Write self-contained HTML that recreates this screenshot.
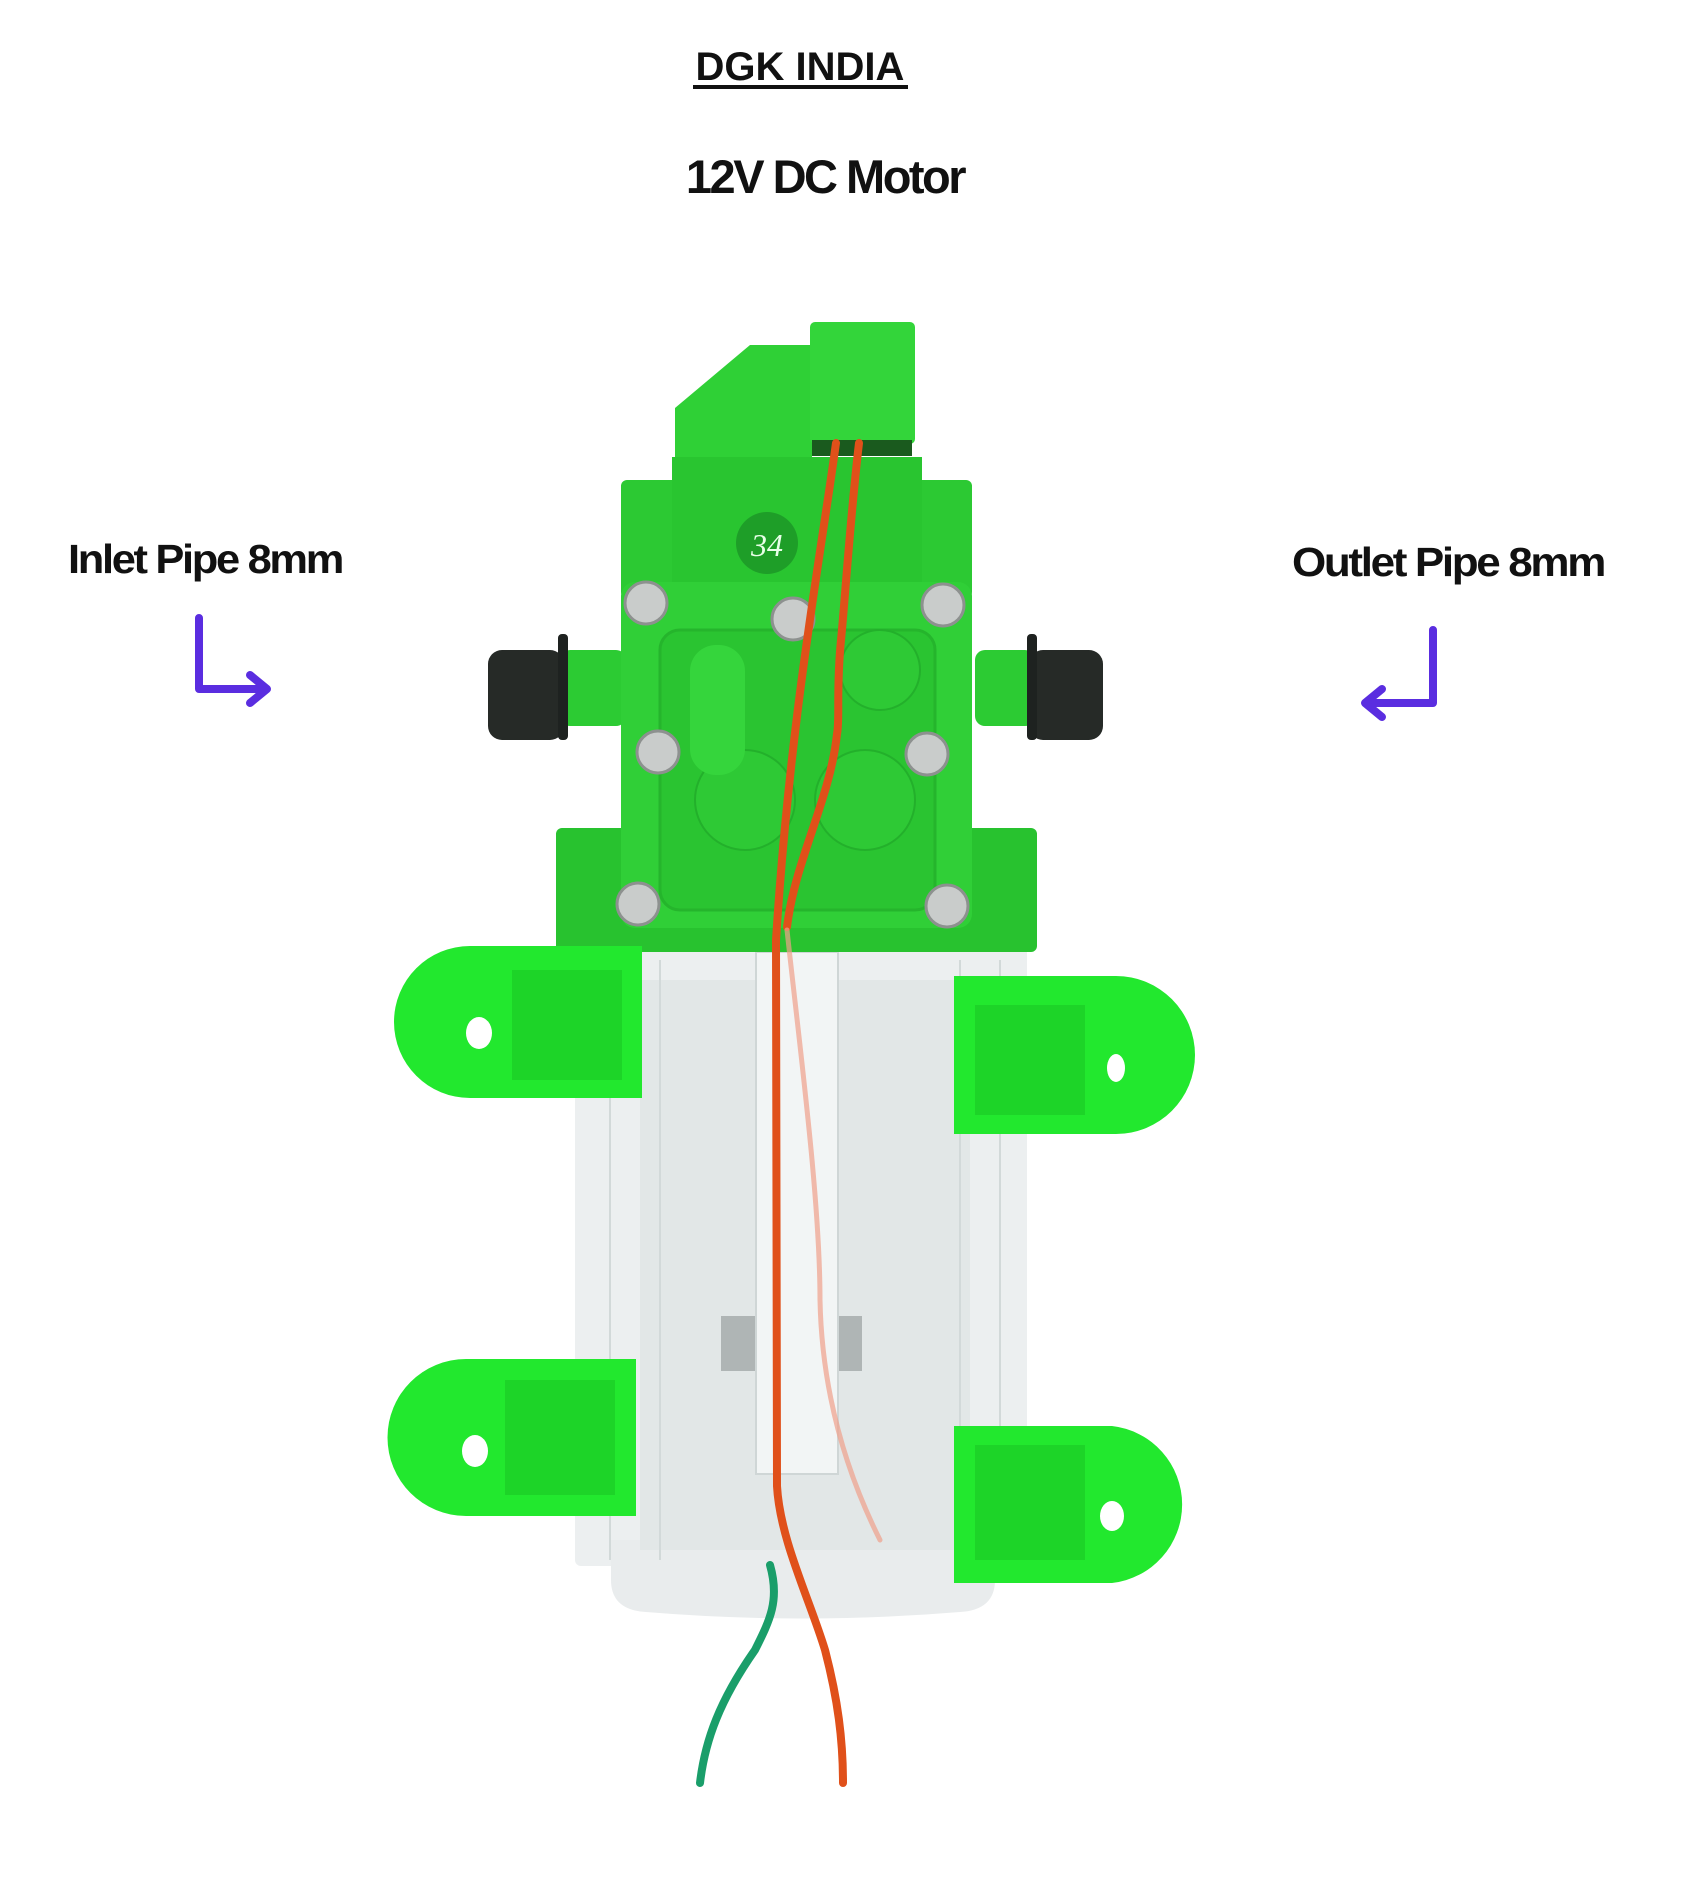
<!DOCTYPE html>
<html><head><meta charset="utf-8"><style>
html,body{margin:0;padding:0;background:#fff}
svg{display:block}
</style></head><body>
<svg width="1700" height="1904" viewBox="0 0 1700 1904" xmlns="http://www.w3.org/2000/svg">
<rect width="1700" height="1904" fill="#fff"/>
<text x="800" y="80" text-anchor="middle" font-family="Liberation Sans, sans-serif" font-weight="bold" font-size="40" fill="#111">DGK INDIA</text>
<rect x="693" y="85" width="215" height="4" fill="#111"/>
<text x="825" y="193" text-anchor="middle" font-family="Liberation Sans, sans-serif" font-weight="bold" font-size="47" letter-spacing="-2.5" fill="#111">12V DC Motor</text>
<text x="68" y="573" font-family="Liberation Sans, sans-serif" font-weight="bold" font-size="41" letter-spacing="-2.2" fill="#111" textLength="274" lengthAdjust="spacingAndGlyphs">Inlet Pipe 8mm</text>
<text x="1292" y="576" font-family="Liberation Sans, sans-serif" font-weight="bold" font-size="41" letter-spacing="-2.2" fill="#111" textLength="312" lengthAdjust="spacingAndGlyphs">Outlet Pipe 8mm</text>
<g fill="none" stroke="#5a2de0" stroke-width="8" stroke-linecap="round" stroke-linejoin="round">
<path d="M199 618 V689 H266"/><path d="M250 675 L267 689 L250 703"/>
<path d="M1433 630 V703 H1366"/><path d="M1382 689 L1365 703 L1382 717"/>
</g>
<rect x="575" y="946" width="452" height="620" rx="6" fill="#eceff0"/>
<path d="M611 1540 H995 V1580 Q995 1610 960 1612 Q803 1625 646 1612 Q611 1610 611 1580 Z" fill="#e9eced"/>
<rect x="640" y="980" width="330" height="570" fill="#e2e7e7"/>
<g stroke="#d2d9d9" stroke-width="2">
<line x1="610" y1="960" x2="610" y2="1560"/><line x1="660" y1="960" x2="660" y2="1560"/>
<line x1="960" y1="960" x2="960" y2="1560"/><line x1="1000" y1="960" x2="1000" y2="1560"/>
</g>
<rect x="721" y="1316" width="141" height="55" fill="#9a9fa0" opacity="0.7"/>
<rect x="756" y="952" width="82" height="522" fill="#f2f5f5" stroke="#cfd6d6" stroke-width="2"/>
<rect x="556" y="828" width="481" height="124" rx="6" fill="#28c22f"/>
<polygon points="675,408 750,345 812,345 812,458 675,458" fill="#2fd036"/>
<rect x="810" y="322" width="105" height="122" rx="5" fill="#33d53a"/>
<rect x="812" y="440" width="100" height="16" fill="#1a5a1e"/>
<rect x="621" y="480" width="351" height="118" rx="6" fill="#2cc933"/>
<rect x="672" y="457" width="250" height="128" fill="#29c530"/>
<circle cx="767" cy="543" r="31" fill="#1e9e28"/>
<text x="767" y="556" text-anchor="middle" font-family="Liberation Serif, serif" font-style="italic" font-size="32" fill="#e8ffe8">34</text>
<rect x="560" y="650" width="66" height="76" rx="10" fill="#2ccb33"/>
<rect x="975" y="650" width="60" height="76" rx="10" fill="#2ccb33"/>
<rect x="488" y="650" width="76" height="90" rx="14" fill="#262a27"/>
<rect x="558" y="634" width="10" height="106" rx="4" fill="#1e2220"/>
<rect x="1029" y="650" width="74" height="90" rx="14" fill="#262a27"/>
<rect x="1027" y="634" width="10" height="106" rx="4" fill="#1e2220"/>
<rect x="621" y="582" width="351" height="346" rx="14" fill="#30cf37"/>
<rect x="660" y="630" width="275" height="280" rx="20" fill="#2ac431" stroke="#25b52c" stroke-width="3"/>
<circle cx="745" cy="800" r="50" fill="#2ec935" stroke="#23b02b" stroke-width="2"/>
<circle cx="865" cy="800" r="50" fill="#2ec935" stroke="#23b02b" stroke-width="2"/>
<circle cx="880" cy="670" r="40" fill="#2ec935" stroke="#23b02b" stroke-width="2"/>
<rect x="690" y="645" width="55" height="130" rx="26" fill="#35d53c"/>
<g fill="#c9cccb" stroke="#8d918f" stroke-width="3">
<circle cx="646" cy="603" r="21"/><circle cx="943" cy="605" r="21"/><circle cx="793" cy="619" r="21"/>
<circle cx="658" cy="752" r="21"/><circle cx="927" cy="754" r="21"/><circle cx="638" cy="904" r="21"/><circle cx="947" cy="906" r="21"/>
</g>
<g fill="#22e82e">
<path d="M470 946 H642 V1098 H470 A76 76 0 0 1 470 946 Z"/>
<path d="M466 1359 H636 V1516 H466 A78 78 0 0 1 466 1359 Z"/>
<path d="M954 976 H1116 A79 79 0 0 1 1116 1134 H954 Z"/>
<path d="M954 1426 H1112 A79 79 0 0 1 1112 1583 H954 Z"/>
</g>
<g fill="#1dd428">
<rect x="512" y="970" width="110" height="110"/><rect x="505" y="1380" width="110" height="115"/>
<rect x="975" y="1005" width="110" height="110"/><rect x="975" y="1445" width="110" height="115"/>
</g>
<g fill="#fff">
<ellipse cx="479" cy="1033" rx="13" ry="16"/><ellipse cx="475" cy="1451" rx="13" ry="16"/>
<ellipse cx="1116" cy="1068" rx="9" ry="14"/><ellipse cx="1112" cy="1516" rx="12" ry="15"/>
</g>
<g fill="none" stroke-linecap="round">
<path d="M836 443 C820 560 790 720 776 940 L777 1486 C780 1540 810 1600 825 1650 C838 1700 843 1740 843 1783" stroke="#e0501a" stroke-width="8"/>
<path d="M859 443 C850 520 845 600 841 640 C836 690 840 720 837 734 C830 800 795 860 787 927" stroke="#e0501a" stroke-width="8"/>
<path d="M787 930 C800 1050 820 1200 820 1300 C822 1400 850 1480 880 1540" stroke="#f0a08a" stroke-width="5" opacity="0.7"/>
<path d="M770 1565 C780 1600 770 1620 755 1650 C720 1700 705 1740 700 1783" stroke="#1a9e6a" stroke-width="8"/>
</g>
</svg>
</body></html>
